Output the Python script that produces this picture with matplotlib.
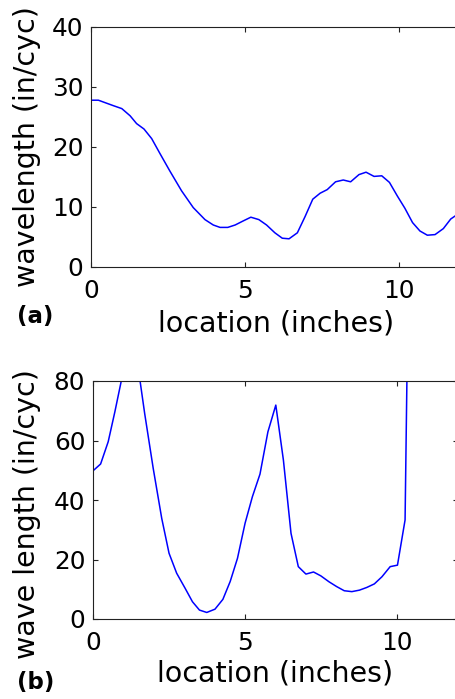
import matplotlib
matplotlib.use("Agg")
import matplotlib.pyplot as plt

# (a) wavelength estimate along the board
loc_a = [0.0, 0.24, 0.72, 1.0, 1.27, 1.48, 1.72, 1.97, 2.24, 2.56, 2.94, 3.32,
         3.70, 3.97, 4.19, 4.44, 4.68, 4.95, 5.19, 5.45, 5.70, 5.97, 6.21,
         6.43, 6.70, 6.95, 7.20, 7.44, 7.67, 7.94, 8.19, 8.43, 8.70, 8.93,
         9.19, 9.44, 9.69, 9.95, 10.19, 10.44, 10.68, 10.92, 11.17, 11.44,
         11.68, 11.85, 12.09]
wl_a = [27.8, 27.8, 26.9, 26.4, 25.2, 23.9, 23.0, 21.4, 18.9, 16.0, 12.7, 9.9,
        7.9, 7.0, 6.6, 6.6, 7.0, 7.7, 8.3, 7.9, 7.0, 5.7, 4.8,
        4.7, 5.7, 8.4, 11.3, 12.3, 12.9, 14.2, 14.5, 14.2, 15.4, 15.8,
        15.1, 15.2, 14.1, 11.8, 9.8, 7.4, 6.0, 5.3, 5.4, 6.4,
        8.0, 8.6, 9.2]

# (b) wave length estimate, second method
loc_b = [0.0, 0.25, 0.50, 0.72, 0.97, 1.21, 1.45, 1.70, 1.98, 2.26, 2.50,
         2.75, 3.03, 3.27, 3.50, 3.74, 4.01, 4.27, 4.51, 4.75, 5.00, 5.24,
         5.49, 5.75, 6.01, 6.26, 6.51, 6.75, 7.00, 7.25, 7.49, 7.76, 8.01,
         8.26, 8.51, 8.76, 9.00, 9.25, 9.50, 9.77, 10.01, 10.26, 10.50,
         10.75, 11.0, 11.5, 12.0]
wl_b = [49.8, 52.1, 59.6, 69.7, 82.0, 100.0, 87.0, 69.0, 50.6, 33.8, 22.1,
        15.4, 10.3, 5.8, 3.0, 2.2, 3.3, 6.6, 12.6, 20.4, 32.2, 41.1,
        48.7, 62.9, 71.9, 53.4, 28.8, 17.6, 15.1, 15.8, 14.5, 12.5, 10.9,
        9.5, 9.2, 9.7, 10.6, 11.8, 14.2, 17.6, 18.1, 33.3, 220.0,
        260.0, 240.0, 250.0, 260.0]

W, H = 456, 699
fig = plt.figure(figsize=(W / 100, H / 100), dpi=100)

ax_a = fig.add_axes([91 / W, 1 - 267 / H, 369.6 / W, 240 / H])
ax_b = fig.add_axes([93 / W, 1 - 619 / H, 365 / W, 238 / H])

ax_a.plot(loc_a, wl_a, color=(0, 0, 1), lw=1.1)
ax_b.plot(loc_b, wl_b, color=(0, 0, 1), lw=1.1)

ax_a.set_xlim(0, 12)
ax_a.set_ylim(0, 40)
ax_a.set_xticks([0, 5, 10])
ax_a.set_yticks([0, 10, 20, 30, 40])
ax_b.set_xlim(0, 12)
ax_b.set_ylim(0, 80)
ax_b.set_xticks([0, 5, 10])
ax_b.set_yticks([0, 20, 40, 60, 80])

for ax in (ax_a, ax_b):
    for s in ax.spines.values():
        s.set_linewidth(0.8)
        s.set_color("#222222")
    ax.tick_params(direction="in", top=True, right=True, length=3.6,
                   width=0.8, color="#222222", labelsize=17.8)
    ax.tick_params(axis="x", pad=9)
    ax.tick_params(axis="y", pad=5.5)
    ax.set_xlabel("location (inches)", fontsize=20.5)

ax_a.set_ylabel("wavelength (in/cyc)", fontsize=20.5)
ax_b.set_ylabel("wave length (in/cyc)", fontsize=20.5)

ax_a.xaxis.set_label_coords(0.5, -0.178)
ax_b.xaxis.set_label_coords(0.5, -0.172)
ax_a.yaxis.set_label_coords(-0.135, 0.5)
ax_b.yaxis.set_label_coords(-0.143, 0.44)

fig.text(35 / W, 1 - 317 / H, "(a)", fontsize=16.5, fontweight="bold",
         ha="center", va="center")
fig.text(36 / W, 1 - 683 / H, "(b)", fontsize=16.5, fontweight="bold",
         ha="center", va="center")

fig.savefig("out.png", dpi=100)
